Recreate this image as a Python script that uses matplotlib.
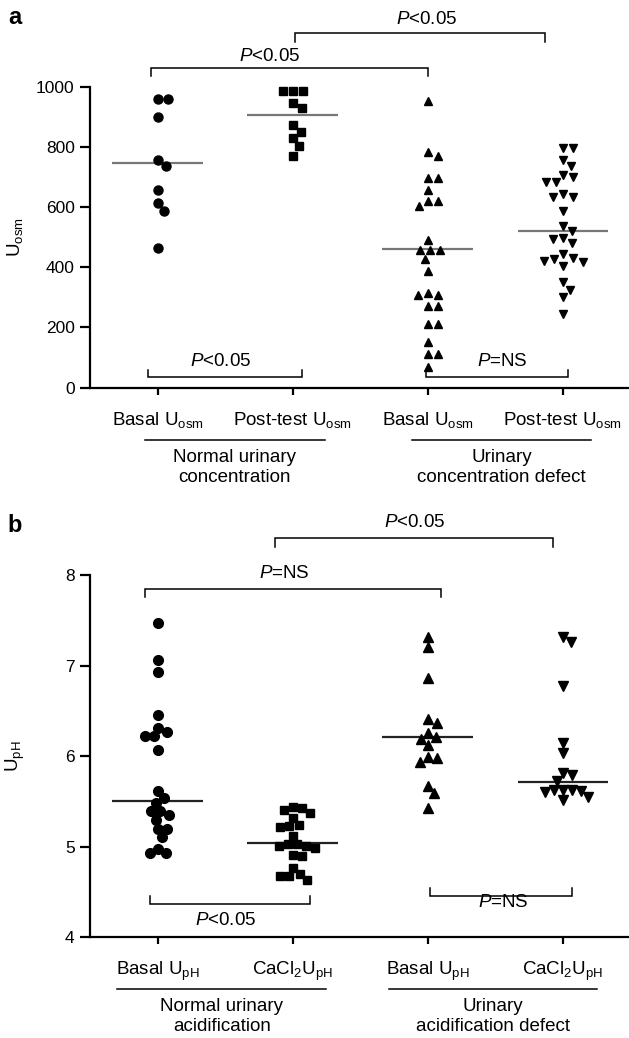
import numpy as np
import matplotlib
matplotlib.use("Agg")
import matplotlib.pyplot as plt
import matplotlib.transforms as mtransforms

plt.rcParams['font.family'] = ['Liberation Sans', 'DejaVu Sans']
plt.rcParams['mathtext.fontset'] = 'custom'
plt.rcParams['mathtext.rm'] = 'Liberation Sans'
plt.rcParams['mathtext.it'] = 'Liberation Sans:italic'
plt.rcParams['mathtext.bf'] = 'Liberation Sans:bold'

# ---- panel a: urinary osmolality ----
osm_labels = [r'Basal U$_{\mathrm{osm}}$', r'Post-test U$_{\mathrm{osm}}$',
              r'Basal U$_{\mathrm{osm}}$', r'Post-test U$_{\mathrm{osm}}$']
osm_groups = ['Normal urinary\nconcentration', 'Urinary\nconcentration defect']
osm_normal_basal = [961, 961, 902, 758, 738, 659, 616, 588, 466]
osm_normal_post = [989, 989, 989, 949, 930, 874, 852, 832, 804, 770]
osm_defect_basal = [956, 783, 772, 698, 698, 658, 622, 622, 603, 492, 459, 459, 459,
                    429, 388, 314, 309, 309, 272, 272, 213, 213, 150, 113, 113, 67]
osm_defect_post = [797, 797, 759, 739, 707, 700, 683, 683, 644, 633, 633, 587, 537, 520,
                   498, 494, 483, 444, 431, 428, 422, 417, 406, 350, 324, 300, 244]
osm_medians = [747, 907, 461, 522]

# ---- panel b: urinary pH ----
ph_labels = [r'Basal U$_{\mathrm{pH}}$', r'CaCl$_2$U$_{\mathrm{pH}}$',
             r'Basal U$_{\mathrm{pH}}$', r'CaCl$_2$U$_{\mathrm{pH}}$']
ph_groups = ['Normal urinary\nacidification', 'Urinary\nacidification defect']
ph_normal_basal = [7.47, 7.06, 6.93, 6.45, 6.31, 6.27, 6.22, 6.22, 6.07, 5.62, 5.54,
                   5.48, 5.39, 5.39, 5.35, 5.30, 5.20, 5.20, 5.11, 4.98, 4.93, 4.93]
ph_normal_cacl = [5.43, 5.37, 5.41, 5.44, 5.32, 5.23, 5.22, 5.24, 5.12, 5.01, 5.03,
                  5.03, 4.99, 5.01, 4.91, 4.90, 4.77, 4.68, 4.63, 4.68, 4.70]
ph_defect_basal = [7.31, 7.21, 6.86, 6.41, 6.37, 6.26, 6.21, 6.19, 6.12, 5.99, 5.94,
                   5.98, 5.67, 5.59, 5.43]
ph_defect_cacl = [7.31, 7.26, 6.78, 6.14, 6.03, 5.81, 5.79, 5.73, 5.63, 5.63, 5.63,
                  5.62, 5.60, 5.55, 5.52]
ph_medians = [5.51, 5.04, 6.21, 5.72]

W, H = 629, 1038
FS = 13.5
fig = plt.figure(figsize=(W / 100, H / 100), dpi=100)


def fy(ypx):
    return 1 - ypx / H


def swarm(ax, xc, vals, diam):
    # greedy beeswarm in pixel space
    vals = np.asarray(vals, float)
    pts = ax.transData.transform(np.column_stack([np.full(len(vals), xc), vals]))
    cands = [0]
    for k in range(1, 80):
        cands += [k, -k]
    placed = []
    xs = np.zeros(len(vals))
    for i in np.argsort(-vals, kind='stable'):
        px, py = pts[i]
        for off in cands:
            if all((px + off - qx) ** 2 + (py - qy) ** 2 >= diam ** 2 for qx, qy in placed):
                break
        placed.append((px + off, py))
        xs[i] = px + off
    return ax.transData.inverted().transform(np.column_stack([xs, pts[:, 1]]))[:, 0]


def bracket(ax, x0, x1, y, yend, txt, tx, ty):
    ax.plot([x0, x0, x1, x1], [yend, y, y, yend], color='black', lw=1.1,
            clip_on=False, solid_joinstyle='miter')
    ax.text(tx, ty, txt, ha='center', va='center', fontsize=FS, clip_on=False)


def setup(ax, ylim, yticks, labels):
    ax.set_xlim(0.5, 4.49)
    ax.set_ylim(*ylim)
    for s in ['top', 'right']:
        ax.spines[s].set_visible(False)
    for s in ['left', 'bottom']:
        ax.spines[s].set_linewidth(1.6)
    ax.set_yticks(yticks)
    ax.set_xticks([1, 2, 3, 4])
    ax.set_xticklabels(labels, fontsize=FS)
    ax.tick_params(axis='y', length=7, width=1.6, pad=4, labelsize=12.5)
    ax.tick_params(axis='x', length=5, width=1.6, pad=11)


def group_labels(ax, groups, spans, ypx_line, ypx_text):
    tr = mtransforms.blended_transform_factory(ax.transData, fig.transFigure)
    for g, (a, b) in zip(groups, spans):
        fig.add_artist(plt.Line2D([a, b], [fy(ypx_line)] * 2, transform=tr,
                                  color='black', lw=1.1))
        fig.text((a + b) / 2, fy(ypx_text), g, transform=tr, ha='center', va='top',
                 fontsize=FS, linespacing=1.25)


# ---------------- panel a ----------------
ax1 = fig.add_axes([90 / W, fy(387.5), (W - 90) / W, (387.5 - 87.3) / H])
setup(ax1, (0, 1000), [0, 200, 400, 600, 800, 1000], osm_labels)
markers = ['o', 's', '^', 'v']
sizes_a = [6.5, 5.5, 6, 6]
for i, vals in enumerate([osm_normal_basal, osm_normal_post, osm_defect_basal, osm_defect_post]):
    xs = swarm(ax1, i + 1, vals, 10)
    ax1.plot(xs, vals, linestyle='none', marker=markers[i], ms=sizes_a[i],
             color='black', clip_on=False, zorder=3)
    ax1.hlines(osm_medians[i], i + 1 - 0.335, i + 1 + 0.335, color='#777777', lw=1.6, zorder=2)

bracket(ax1, 2.02, 3.87, 1180, 1152, r'$P$<0.05', 2.99, 1227)
bracket(ax1, 0.953, 3.0, 1063, 1038, r'$P$<0.05', 1.83, 1102)
bracket(ax1, 0.93, 2.07, 35, 58, r'$P$<0.05', 1.47, 88)
bracket(ax1, 2.985, 4.04, 35, 58, r'$P$=NS', 3.55, 86)
group_labels(ax1, osm_groups, [(0.904, 2.237), (2.88, 4.21)], 440, 449)

fig.text(15 / W, fy(237), r'U$_{\mathrm{osm}}$', rotation=90, ha='center', va='center',
         fontsize=FS)
fig.text(15 / W, fy(18), 'a', ha='center', va='center', fontsize=17, fontweight='bold')

# ---------------- panel b ----------------
ax2 = fig.add_axes([90 / W, fy(937.3), (W - 90) / W, (937.3 - 575) / H])
setup(ax2, (4, 8), [4, 5, 6, 7, 8], ph_labels)
sizes_b = [7, 6.2, 6.5, 6.5]
for i, vals in enumerate([ph_normal_basal, ph_normal_cacl, ph_defect_basal, ph_defect_cacl]):
    xs = swarm(ax2, i + 1, vals, 9)
    ax2.plot(xs, vals, linestyle='none', marker=markers[i], ms=sizes_b[i],
             color='black', clip_on=False, zorder=3)
    ax2.hlines(ph_medians[i], i + 1 - 0.335, i + 1 + 0.335, color='#222222', lw=1.6, zorder=2)

bracket(ax2, 1.87, 3.93, 8.405, 8.312, r'$P$<0.05', 2.90, 8.577)
bracket(ax2, 0.906, 3.10, 7.842, 7.757, r'$P$=NS', 1.94, 8.02)
bracket(ax2, 0.946, 2.13, 4.368, 4.456, r'$P$<0.05', 1.505, 4.18)
bracket(ax2, 3.02, 4.07, 4.456, 4.544, r'$P$=NS', 3.56, 4.379)
group_labels(ax2, ph_groups, [(0.70, 2.25), (2.71, 4.25)], 989, 998)

fig.text(15 / W, fy(756), r'U$_{\mathrm{pH}}$', rotation=90, ha='center', va='center',
         fontsize=FS)
fig.text(15 / W, fy(525), 'b', ha='center', va='center', fontsize=17, fontweight='bold')

fig.savefig('out.png', dpi=100)
